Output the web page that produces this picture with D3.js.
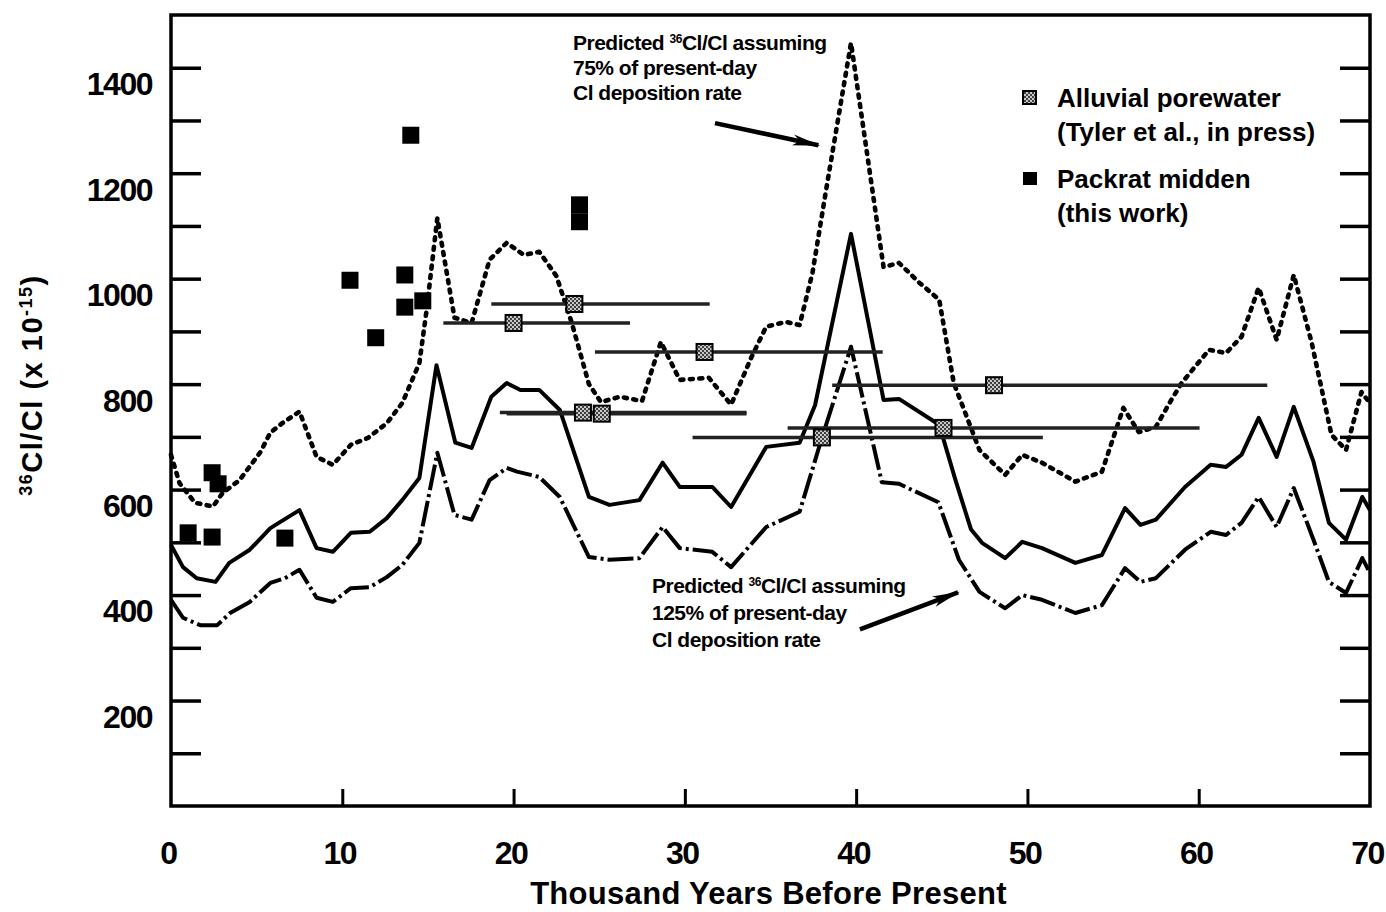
<!DOCTYPE html>
<html><head><meta charset="utf-8">
<script src="https://cdn.jsdelivr.net/npm/d3@7"></script>
<style>
body{margin:0;background:#fff;}
svg{display:block;}
text{font-family:"Liberation Sans",Arial,Helvetica,sans-serif;font-weight:bold;fill:#000;}
</style></head><body>
<svg id="chart" width="1386" height="912"></svg>
<script>
// ---- Predicted 36Cl/Cl, 100% of present-day Cl deposition (solid) ----
const ages100 = [0,0.7,1.5,2.6,3.4,4.6,5.8,6.6,7.5,8.5,9.45,10.5,11.6,12.6,13.5,14.5,15.5,16.6,17.55,18.7,19.6,20.4,21.5,22.7,24.4,25.6,27.35,28.7,29.7,31.6,32.7,34.75,36.7,37.6,39.7,41.6,42.5,44.85,45.8,46.7,47.35,48.7,49.7,50.85,52.8,54.35,55.7,56.6,57.5,59.2,60.7,61.6,62.5,63.5,64.55,65.55,66.7,67.6,68.6,69.55,70];
const ratio100 = [495,453,432,425,461,486,527,543,561,489,482,518,520,546,580,622,836,689,679,776,802,789,789,751,586,571,580,651,605,605,567,681,689,760,1085,770,772,723,618,525,499,470,501,489,461,476,565,533,543,605,647,643,666,736,662,757,653,537,505,586,561];

// ---- Predicted 36Cl/Cl, 75% of present-day Cl deposition (dotted) ----
const ages75 = [0,0.5,1.4,2.45,3.0,4.0,5.2,5.8,6.5,7.5,8.5,9.45,10.5,11.5,12.6,13.5,14.5,14.9,15.55,16.55,17.55,18.6,19.6,20.6,21.5,22.5,23.4,24.4,25.1,26.2,27.5,28.6,29.7,31.4,32.7,33.9,34.75,35.9,36.7,37.45,38.25,39.7,41.6,42.5,43.7,44.85,45.7,46.2,47.2,48.7,49.7,50.85,52.8,54.35,55.6,56.5,57.5,58.4,59.0,60.6,61.6,62.5,63.5,64.55,65.55,66.6,67.75,68.6,69.5,70];
const ratio75 = [666,612,575,568,593,618,670,708,726,748,662,647,685,698,726,764,840,935,1115,926,916,1036,1068,1045,1051,1005,916,800,766,776,768,880,808,812,761,852,909,918,912,1011,1169,1447,1022,1030,992,960,802,760,675,628,666,651,615,634,755,709,719,770,802,865,859,890,983,884,1007,878,704,675,785,764];

// ---- Predicted 36Cl/Cl, 125% of present-day Cl deposition (dash-dot) ----
const ages125 = [0,0.7,1.7,2.7,3.45,4.6,5.8,6.65,7.5,8.5,9.45,10.5,11.6,12.6,13.5,14.5,15.55,16.55,17.55,18.6,19.6,20.2,21.5,22.7,24.4,25.6,27.35,28.7,29.7,31.6,32.7,34.75,36.7,38.0,39.7,41.5,42.5,44.8,46.0,47.2,48.7,49.7,50.85,52.8,54.35,55.7,56.6,57.5,59.2,60.7,61.6,62.5,63.5,64.55,65.55,66.7,67.6,68.6,69.55,70];
const ratio125 = [391,357,343,343,366,387,423,432,448,395,387,413,415,434,457,499,670,552,543,618,641,634,624,586,472,467,470,529,489,482,453,529,558,698,871,614,611,576,467,406,375,400,391,366,381,451,425,432,486,520,514,537,586,529,603,505,425,404,470,442];

// ---- Packrat midden (this work) ----
const packratAge   = [1.0,2.4,2.4,2.75,6.65,10.45,11.95,13.65,13.65,14.7,14.0,23.85,23.85];
const packratRatio = [518,510,632,611,508,997,888,1007,946,958,1272,1140,1108];

// ---- Alluvial porewater (Tyler et al., in press) ----
const alluvAge    = [20.0,23.55,31.15,24.05,25.15,38.0,45.1,48.05];
const alluvRatio  = [916,952,861,746,744,699,717,798];
const alluvAgeMin = [15.9,18.7,24.75,19.2,19.6,30.45,36.0,38.6];
const alluvAgeMax = [26.8,31.45,41.55,33.6,33.6,50.9,60.05,64.0];

// ---- Axis ticks / labels ----
const yTickVals  = [100,200,300,400,500,600,700,800,900,1000,1100,1200,1300,1400];
const yLabelVals = [200,400,600,800,1000,1200,1400];
const xTickVals  = [10,20,30,40,50,60];
const xLabelVals = [0,10,20,30,40,50,60,70];

const svg = d3.select("#chart");
const x = d3.scaleLinear().domain([0,70]).range([171,1370]);
const y = d3.scaleLinear().domain([0,1500]).range([806,15]);

const defs = svg.append("defs");
const pat = defs.append("pattern").attr("id","hatch").attr("width",4).attr("height",4)
  .attr("patternUnits","userSpaceOnUse");
pat.append("rect").attr("width",4).attr("height",4).attr("fill","#c8c8c8");
pat.append("circle").attr("cx",1).attr("cy",1).attr("r",1).attr("fill","#111");
pat.append("circle").attr("cx",3).attr("cy",3).attr("r",1).attr("fill","#111");
defs.append("marker").attr("id","arrow").attr("markerUnits","userSpaceOnUse")
  .attr("markerWidth",30).attr("markerHeight",12).attr("refX",26).attr("refY",6)
  .attr("orient","auto")
  .append("path").attr("d","M0,0.5 L28,6 L0,11.5 L7,6 Z").attr("fill","#000");

// frame
svg.append("rect").attr("x",x(0)).attr("y",y(1500)).attr("width",x(70)-x(0)).attr("height",y(0)-y(1500))
  .attr("fill","none").attr("stroke","#000").attr("stroke-width",3.5);

function styleTicks(g, w){
  g.select(".domain").remove();
  g.selectAll(".tick line").attr("stroke","#000").attr("stroke-width",w);
}
svg.append("g").attr("transform",`translate(${x(0)},0)`)
  .call(d3.axisRight(y).tickValues(yTickVals).tickSize(30).tickFormat(""))
  .call(g=>styleTicks(g,3.5));
svg.append("g").attr("transform",`translate(${x(70)},0)`)
  .call(d3.axisLeft(y).tickValues(yTickVals).tickSize(30).tickFormat(""))
  .call(g=>styleTicks(g,3.5));
svg.append("g").attr("transform",`translate(0,${y(0)})`)
  .call(d3.axisTop(x).tickValues(xTickVals).tickSize(17).tickFormat(""))
  .call(g=>styleTicks(g,3));

// tick labels
svg.append("g").attr("transform",`translate(${x(0)},0)`)
  .call(d3.axisLeft(y).tickValues(yLabelVals).tickSize(0).tickPadding(19).tickFormat(d3.format("d")))
  .call(g=>{g.select(".domain").remove();
    g.selectAll("text").attr("font-size",32).attr("letter-spacing","-1.5px")
     .attr("font-family",null).attr("fill","#000").attr("dy","0.84em");});
svg.append("g").attr("transform",`translate(0,${y(0)})`)
  .call(d3.axisBottom(x).tickValues(xLabelVals).tickSize(0).tickPadding(35).tickFormat(d3.format("d")))
  .call(g=>{g.select(".domain").remove();
    g.selectAll("text").attr("font-size",32).attr("letter-spacing","-1.5px")
     .attr("font-family",null).attr("fill","#000").attr("dx","-3");});

// axis titles
svg.append("text").attr("x",(x(0)+x(70))/2-2).attr("y",904).attr("text-anchor","middle")
  .attr("font-size",31).attr("letter-spacing","0.3px").text("Thousand Years Before Present");
const yt = svg.append("text").attr("transform","translate(42,385) rotate(-90)")
  .attr("text-anchor","middle").attr("font-size",29).attr("letter-spacing","1.5px");
yt.append("tspan").attr("font-size",18).attr("dy",-10).text("36");
yt.append("tspan").attr("dy",10).text("Cl/Cl (x 10");
yt.append("tspan").attr("font-size",18).attr("dy",-10).text("-15");
yt.append("tspan").attr("dy",10).text(")");

// curves
const line = d3.line().x(d=>x(d[0])).y(d=>y(d[1]));
svg.append("path").datum(d3.zip(ages100,ratio100)).attr("d",line)
  .attr("fill","none").attr("stroke","#000").attr("stroke-width",4).attr("stroke-linejoin","round");
svg.append("path").datum(d3.zip(ages75,ratio75)).attr("d",line)
  .attr("fill","none").attr("stroke","#000").attr("stroke-width",4.6).attr("stroke-linejoin","round")
  .attr("stroke-linecap","round").attr("stroke-dasharray","3,6.5");
svg.append("path").datum(d3.zip(ages125,ratio125)).attr("d",line)
  .attr("fill","none").attr("stroke","#000").attr("stroke-width",4).attr("stroke-linejoin","round")
  .attr("stroke-dasharray","26,4,3,4");

// alluvial error bars and markers
const alluv = alluvAge.map((a,i)=>({a, r:alluvRatio[i], lo:alluvAgeMin[i], hi:alluvAgeMax[i]}));
svg.append("g").selectAll("line").data(alluv).join("line")
  .attr("x1",d=>x(d.lo)).attr("x2",d=>x(d.hi)).attr("y1",d=>y(d.r)).attr("y2",d=>y(d.r))
  .attr("stroke","#222").attr("stroke-width",3.5);
svg.append("g").selectAll("rect").data(alluv).join("rect")
  .attr("x",d=>x(d.a)-8).attr("y",d=>y(d.r)-8).attr("width",16).attr("height",16)
  .attr("fill","url(#hatch)").attr("stroke","#000").attr("stroke-width",2);

// packrat markers
const pack = packratAge.map((a,i)=>({a, r:packratRatio[i]}));
svg.append("g").selectAll("rect").data(pack).join("rect")
  .attr("x",d=>x(d.a)-8.5).attr("y",d=>y(d.r)-8.5).attr("width",17).attr("height",17).attr("fill","#000");

// annotations
function note(ax, ay, spacing, lines){
  const t = svg.append("text").attr("font-size",21).attr("letter-spacing","-0.5px");
  lines.forEach((ln,i)=>{
    const row = t.append("tspan").attr("x",x(ax)).attr("y",y(ay)+i*spacing);
    ln.forEach(seg=>{
      const s = row.append("tspan").text(seg.t);
      if(seg.sup){ s.attr("font-size",12).attr("baseline-shift","super"); }
    });
  });
}
note(23.47, 1434, 25, [
  [{t:"Predicted "},{t:"36",sup:true},{t:"Cl/Cl assuming"}],
  [{t:"75% of present-day"}],
  [{t:"Cl deposition rate"}]
]);
note(28.08, 404, 27, [
  [{t:"Predicted "},{t:"36",sup:true},{t:"Cl/Cl assuming"}],
  [{t:"125% of present-day"}],
  [{t:"Cl deposition rate"}]
]);
svg.append("line").attr("x1",x(31.76)).attr("y1",y(1295)).attr("x2",x(37.8)).attr("y2",y(1253))
  .attr("stroke","#000").attr("stroke-width",4.5).attr("marker-end","url(#arrow)");
svg.append("line").attr("x1",x(40.22)).attr("y1",y(335)).attr("x2",x(45.95)).attr("y2",y(405))
  .attr("stroke","#000").attr("stroke-width",4.5).attr("marker-end","url(#arrow)");

// legend
const lg = svg.append("g");
lg.append("rect").attr("x",1023).attr("y",91).attr("width",13).attr("height",13)
  .attr("fill","url(#hatch)").attr("stroke","#000").attr("stroke-width",2);
lg.append("rect").attr("x",1023).attr("y",172).attr("width",14).attr("height",13).attr("fill","#000");
[["Alluvial porewater",107],["(Tyler et al., in press)",141],["Packrat midden",188],["(this work)",222]]
  .forEach(([s,yy])=>lg.append("text").attr("x",1057).attr("y",yy).attr("font-size",26)
    .attr("letter-spacing","0px").text(s));
</script>
</body></html>
